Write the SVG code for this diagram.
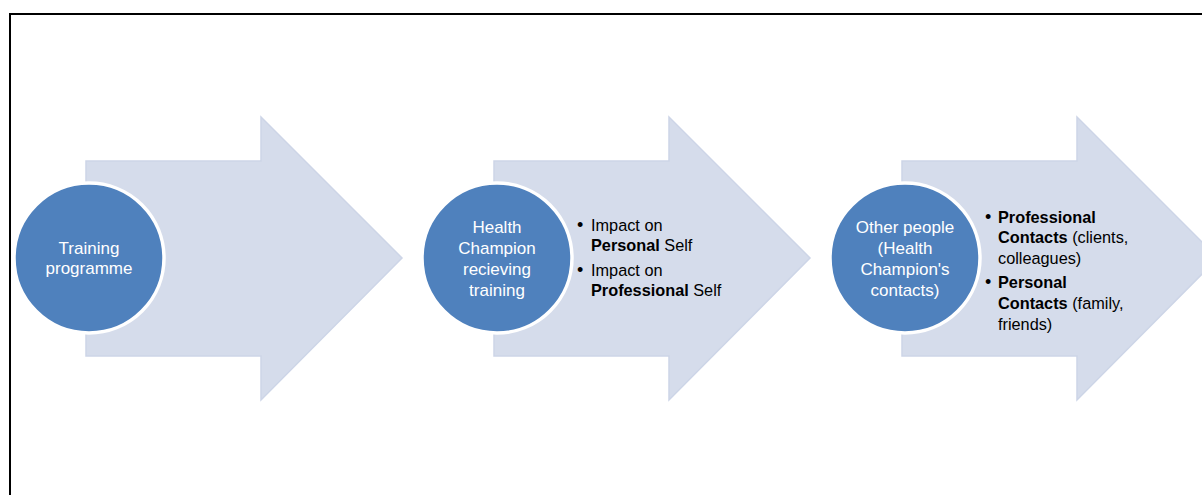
<svg xmlns="http://www.w3.org/2000/svg" width="1202" height="495" viewBox="0 0 1202 495">
<defs>
<style>
.arrow{fill:#D5DCEB;stroke:#CDD5E7;stroke-width:1.5}
.circ{fill:#4F81BD;stroke:#FFFFFF;stroke-width:3.5}
.ct{font-family:"Liberation Sans",Arial,sans-serif;font-size:17px;fill:#FFFFFF;text-anchor:middle}
.bt{font-family:"Liberation Sans",Arial,sans-serif;font-size:16.3px;fill:#000000}
.b{font-weight:bold}
.dot{font-size:18px}
.frame{fill:none;stroke:#000000;stroke-width:2}
</style>
</defs>
<rect width="1202" height="495" fill="#FFFFFF"/>
<path class="frame" d="M10,495 V14 H1202"/>
<g id="connectors">
<path id="arrow1" class="arrow" d="M86,161 H261 V117 L402,258 L261,400 V356 H86 Z"/>
<path id="arrow2" class="arrow" d="M494,161 H669 V117 L810,258 L669,400 V356 H494 Z"/>
<path id="arrow3" class="arrow" d="M902,161 H1077 V117 L1218,258 L1077,400 V356 H902 Z"/>
</g>
<g id="node1">
<circle class="circ" cx="89" cy="258" r="75"/>
<text class="ct"><tspan x="89" y="254">Training</tspan><tspan x="89" y="274">programme</tspan></text>
</g>
<g id="node2">
<circle class="circ" cx="497" cy="258" r="75"/>
<text class="ct"><tspan x="497" y="233">Health</tspan><tspan x="497" y="254">Champion</tspan><tspan x="497" y="275">recieving</tspan><tspan x="497" y="296">training</tspan></text>
</g>
<g id="node2-details">
<text class="bt"><tspan x="577" y="231" class="dot">•</tspan><tspan x="591" y="231">Impact on</tspan></text>
<text class="bt"><tspan x="591" y="251" class="b">Personal</tspan><tspan> Self</tspan></text>
<text class="bt"><tspan x="577" y="276" class="dot">•</tspan><tspan x="591" y="276">Impact on</tspan></text>
<text class="bt"><tspan x="591" y="296" class="b">Professional</tspan><tspan> Self</tspan></text>
</g>
<g id="node3">
<circle class="circ" cx="905" cy="258" r="75"/>
<text class="ct"><tspan x="905" y="233">Other people</tspan><tspan x="905" y="254">(Health</tspan><tspan x="905" y="275">Champion's</tspan><tspan x="905" y="296">contacts)</tspan></text>
</g>
<g id="node3-details">
<text class="bt"><tspan x="985" y="223" class="dot">•</tspan><tspan x="998" y="223" class="b">Professional</tspan></text>
<text class="bt"><tspan x="998" y="243" class="b">Contacts</tspan><tspan> (clients,</tspan></text>
<text class="bt"><tspan x="998" y="264">colleagues)</tspan></text>
<text class="bt"><tspan x="985" y="288" class="dot">•</tspan><tspan x="998" y="288" class="b">Personal</tspan></text>
<text class="bt"><tspan x="998" y="309" class="b">Contacts</tspan><tspan> (family,</tspan></text>
<text class="bt"><tspan x="998" y="330">friends)</tspan></text>
</g>
</svg>
